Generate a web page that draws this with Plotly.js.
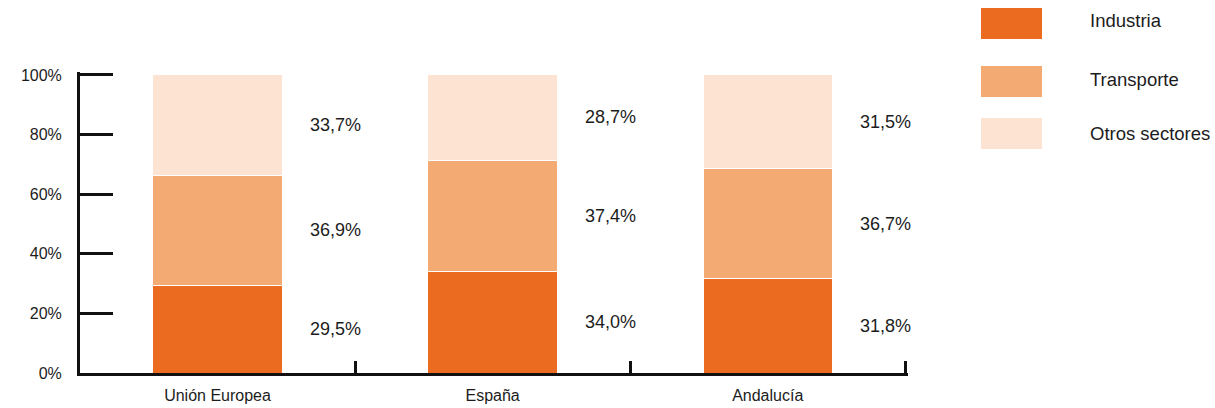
<!DOCTYPE html>
<html>
<head>
<meta charset="utf-8">
<script src="https://cdn.plot.ly/plotly-3.0.1.min.js"></script>
<style>
  html, body { margin: 0; padding: 0; background: #fff; }
  #chart { width: 1215px; height: 408px; }
</style>
</head>
<body>
<div id="chart"></div>
<script>
// Reparto del consumo de energía final por sector
const regiones = ["Unión Europea", "España", "Andalucía"];
const sectores = ["Industria", "Transporte", "Otros sectores"];
const industria = [29.5, 34.0, 31.8];
const transporte = [36.9, 37.4, 36.7];
const otros = [33.7, 28.7, 31.5];
const yTicks = [0, 20, 40, 60, 80, 100];
const yTickText = ["0%", "20%", "40%", "60%", "80%", "100%"];

const series = [industria, transporte, otros];
const colores = ["#EB6B20", "#F4AA73", "#FCE3D2"];
const FONT = '"Liberation Sans", Arial, Helvetica, sans-serif';
const TXT = "#1c1c1c";
const AXIS = "#111111";

// plot area geometry (pixels); y range topped slightly above 100 so its tick shows
const W = 1215, H = 408;
const Y_MAX = 101, X_MAX = 2.51;
const M = { l: 80, r: 307, t: 72, b: 35 };
const plotW = W - M.l - M.r, plotH = H - M.t - M.b;
const px2x = (px) => (px - M.l) / plotW;
const px2y = (py) => (H - M.b - py) / plotH;

const traces = series.map((vals, i) => ({
  type: "bar",
  name: sectores[i],
  x: regiones,
  y: vals,
  marker: { color: colores[i], line: { color: "#ffffff", width: 1 } },
  hoverinfo: "skip",
  showlegend: false
}));

const fmt = (v) => v.toFixed(1).replace(".", ",") + "%";

// value labels beside each stacked segment
const annotations = [];
regiones.forEach((r, ci) => {
  let base = 0;
  series.forEach((vals) => {
    const v = vals[ci];
    annotations.push({
      xref: "x", yref: "y", x: ci, y: base + v / 2,
      xanchor: "left", yanchor: "middle", xshift: 90,
      text: fmt(v), showarrow: false,
      font: { family: FONT, size: 18, color: TXT }
    });
    base += v;
  });
});

// legend: large swatches with labels to the right
const legendRows = [
  { top: 8, bottom: 39, cy: 21 },
  { top: 66, bottom: 97, cy: 80 },
  { top: 118, bottom: 149, cy: 133 }
];
const shapes = [];
legendRows.forEach((row, i) => {
  shapes.push({
    type: "rect", xref: "paper", yref: "paper",
    x0: px2x(981), x1: px2x(1042), y0: px2y(row.bottom), y1: px2y(row.top),
    fillcolor: colores[i], line: { width: 0 }
  });
  annotations.push({
    xref: "paper", yref: "paper", x: px2x(1088), y: px2y(row.cy),
    xanchor: "left", yanchor: "middle", text: sectores[i], showarrow: false,
    font: { family: FONT, size: 18.5, color: TXT }
  });
});

const layout = {
  width: W, height: H,
  margin: M,
  barmode: "stack",
  bargap: 0.53,
  paper_bgcolor: "#ffffff",
  plot_bgcolor: "#ffffff",
  font: { family: FONT, color: TXT },
  showlegend: false,
  xaxis: {
    type: "category",
    range: [-0.5, X_MAX],
    showgrid: false, zeroline: false,
    showline: true, linecolor: AXIS, linewidth: 3,
    ticks: "inside", tickson: "boundaries", ticklen: 12, tickwidth: 3, tickcolor: AXIS,
    tickfont: { family: FONT, size: 16, color: TXT },
    ticklabelstandoff: 6
  },
  yaxis: {
    range: [0, Y_MAX],
    showgrid: false, zeroline: false,
    showline: true, linecolor: AXIS, linewidth: 3,
    tickvals: yTicks, ticktext: yTickText,
    ticks: "inside", ticklen: 33, tickwidth: 3, tickcolor: AXIS,
    tickfont: { family: FONT, size: 16, color: TXT },
    ticklabelstandoff: 12
  },
  shapes: shapes,
  annotations: annotations
};

Plotly.newPlot("chart", traces, layout, { displayModeBar: false, staticPlot: true });
</script>
</body>
</html>
